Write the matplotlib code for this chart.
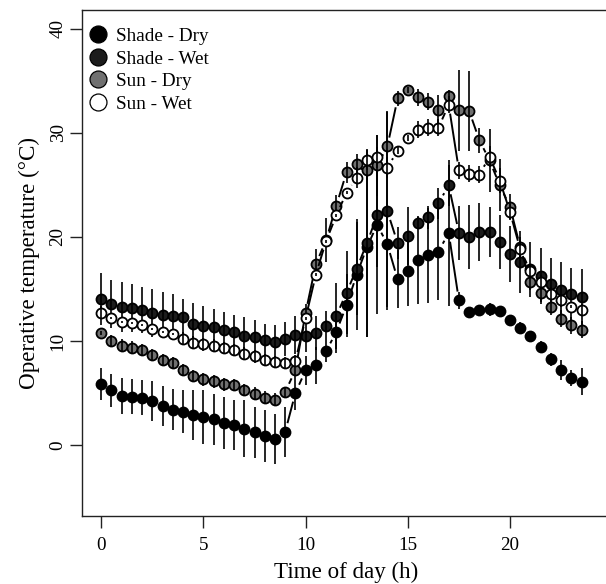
import matplotlib
matplotlib.use("Agg")
import numpy as np
import matplotlib.pyplot as plt
from matplotlib.lines import Line2D
from matplotlib.collections import LineCollection

hours = [0, 0.5, 1, 1.5, 2, 2.5, 3, 3.5, 4, 4.5, 5, 5.5, 6, 6.5, 7, 7.5, 8, 8.5,
         9, 9.5, 10, 10.5, 11, 11.5, 12, 12.5, 13, 13.5, 14, 14.5, 15, 15.5, 16,
         16.5, 17, 17.5, 18, 18.5, 19, 19.5, 20, 20.5, 21, 21.5, 22, 22.5, 23, 23.5]

shade_dry = [5.88, 5.28, 4.77, 4.64, 4.58, 4.25, 3.74, 3.42, 3.23, 2.91, 2.72, 2.47, 2.14,
             1.92, 1.60, 1.22, 0.88, 0.64, 1.28, 5.02, 7.20, 7.68, 9.02, 10.88, 13.44,
             16.38, 19.03, 21.18, 19.29, 15.93, 16.73, 17.75, 18.23, 18.60, 20.40, 13.90,
             12.80, 12.96, 13.05, 12.85, 12.00, 11.30, 10.50, 9.45, 8.25, 7.20, 6.45, 6.08]
shade_dry_se = [1.56, 1.60, 1.73, 1.69, 1.70, 1.92, 1.92, 1.98, 2.05, 2.43, 2.56, 2.47, 2.46,
                2.40, 2.70, 2.45, 2.50, 2.40, 2.40, 1.60, 1.40, 1.80, 1.00, 2.00, 3.00,
                5.30, 8.60, 8.60, 6.00, 2.80, 3.40, 4.15, 4.60, 4.70, 7.00, 0.80,
                0.50, 0.50, 0.60, 0.50, 0.40, 0.50, 0.50, 0.55, 0.60, 0.95, 0.80, 1.30]

shade_wet = [14.01, 13.60, 13.24, 13.18, 13.02, 12.70, 12.50, 12.38, 12.31, 11.68, 11.49, 11.36, 11.04,
             10.88, 10.49, 10.36, 10.08, 9.95, 10.20, 10.60, 10.46, 10.78, 11.45, 12.41, 14.65,
             16.96, 19.42, 22.07, 22.46, 19.42, 20.09, 21.37, 21.90, 23.25, 24.95, 20.40,
             20.00, 20.45, 20.50, 19.50, 18.35, 17.60, 16.90, 16.25, 15.50, 14.90, 14.55, 14.20]
shade_wet_se = [2.50, 2.30, 2.40, 2.30, 2.20, 2.30, 2.25, 2.10, 1.70, 2.00, 1.85, 1.76, 1.80,
                1.60, 1.80, 1.65, 1.60, 1.60, 1.60, 1.80, 1.50, 1.60, 1.40, 3.20, 4.00,
                4.50, 9.00, 5.00, 9.50, 1.50, 2.80, 0.60, 1.10, 1.50, 2.00, 2.60,
                3.10, 2.80, 2.40, 2.60, 2.70, 3.00, 2.65, 2.65, 2.50, 2.70, 2.50, 2.70]

sun_dry = [10.78, 10.01, 9.57, 9.38, 9.12, 8.64, 8.16, 7.90, 7.20, 6.65, 6.33, 6.14, 5.85,
           5.76, 5.28, 4.96, 4.58, 4.38, 5.12, 7.20, 12.73, 17.37, 19.70, 23.00, 26.20,
           27.00, 26.46, 26.87, 28.70, 33.30, 34.10, 33.40, 33.00, 32.15, 33.50, 32.15,
           32.10, 29.30, 27.35, 24.95, 22.90, 19.00, 15.70, 14.60, 13.30, 12.15, 11.50, 11.10]
sun_dry_se = [0.15, 0.60, 0.60, 0.60, 0.60, 0.60, 0.60, 0.60, 0.60, 0.60, 0.60, 0.60, 0.60,
              0.60, 0.60, 0.60, 0.60, 0.60, 0.50, 0.50, 0.80, 1.50, 2.10, 1.00, 1.00,
              1.00, 1.00, 2.90, 3.40, 0.70, 0.30, 0.80, 0.80, 1.50, 0.60, 3.85,
              3.80, 1.20, 3.00, 2.50, 1.20, 1.00, 0.80, 0.80, 0.80, 0.80, 0.80, 0.80]

sun_wet = [12.74, 12.19, 11.83, 11.74, 11.58, 11.20, 10.87, 10.65, 10.24, 9.86, 9.69, 9.57, 9.34,
           9.12, 8.80, 8.54, 8.16, 8.00, 7.90, 8.10, 12.20, 16.38, 19.60, 22.07, 24.25,
           25.70, 27.40, 27.67, 26.65, 28.30, 29.50, 30.30, 30.50, 30.50, 32.70, 26.40,
           26.07, 26.00, 27.70, 25.40, 22.40, 18.80, 16.70, 15.70, 14.55, 13.90, 13.30, 13.00]
sun_wet_se = [0.60, 0.10, 0.10, 0.10, 0.10, 0.10, 0.10, 0.10, 0.60, 0.60, 0.60, 0.60, 0.60,
              0.60, 0.60, 0.60, 0.60, 0.60, 0.60, 0.60, 0.15, 0.15, 0.15, 0.15, 0.15,
              1.00, 1.00, 1.00, 1.00, 0.30, 0.30, 0.80, 0.80, 0.80, 0.80, 0.80,
              0.80, 0.80, 1.00, 1.20, 0.80, 0.80, 0.60, 0.60, 0.60, 0.60, 0.15, 0.60]

labels = ["Shade - Dry", "Shade - Wet", "Sun - Dry", "Sun - Wet"]
fills = ["#000000", "#1c1c1c", "#707070", "#ffffff"]
series = [(shade_dry, shade_dry_se), (shade_wet, shade_wet_se),
          (sun_dry, sun_dry_se), (sun_wet, sun_wet_se)]

plt.rcParams['font.family'] = ['Liberation Serif', 'DejaVu Serif']

fig = plt.figure(figsize=(6.06, 5.84), dpi=100)
ax = fig.add_axes([82 / 606, 68 / 584, 529 / 606, 506 / 584])
ax.set_xlim(-0.94, 24.94)
ax.set_ylim(-6.8, 41.8)

GAP = 9.0  # pixels left open around each point (R type="b")


def gapped_segments(x, y):
    pts = ax.transData.transform(np.column_stack([x, y]))
    inv = ax.transData.inverted()
    segs = []
    for p, q in zip(pts[:-1], pts[1:]):
        d = q - p
        L = np.hypot(*d)
        if L > 2 * GAP:
            u = d / L
            segs.append(inv.transform(np.array([p + u * GAP, q - u * GAP])))
    return segs


z = 2
for (vals, se), fc in zip(series, fills):
    ax.add_collection(LineCollection(gapped_segments(hours, vals), colors='black',
                                     linewidths=1.4, zorder=z, capstyle='butt'))
    ax.plot(hours, vals, ls='none', marker='o', ms=7.2,
            mfc=fc, mec='black', mew=1.3, zorder=z)
    ax.errorbar(hours, vals, yerr=se, fmt='none', ecolor='black',
                elinewidth=1.2, capsize=0, zorder=z + 1)
    z += 2

ax.set_xticks([0, 5, 10, 15, 20])
ax.set_yticks([0, 10, 20, 30, 40])
ax.tick_params(axis='both', direction='out', length=8.6, width=1.0,
               labelsize=13.8, color='#222222')
ax.tick_params(axis='x', pad=6.5)
ax.tick_params(axis='y', pad=2.5)
for lab in ax.get_yticklabels():
    lab.set_rotation(90)
    lab.set_va('center')
for s in ax.spines.values():
    s.set_linewidth(1.0)
    s.set_color('#222222')
ax.spines['right'].set_visible(False)

ax.set_xlabel("Time of day (h)", fontsize=16.6, labelpad=6)
ax.set_ylabel("Operative temperature (°C)", fontsize=16.6, labelpad=7)

handles = [Line2D([], [], ls='none', marker='o', ms=12.2, mfc=fc, mec='black', mew=0.9)
           for fc in fills]
ax.legend(handles, labels, loc='upper left', bbox_to_anchor=(0, 1 - 6 / 506),
          frameon=False, borderaxespad=0, borderpad=0.6, handlelength=0.45,
          handletextpad=0.7, labelspacing=0.27, fontsize=13.8)

fig.savefig("out.png", dpi=100)
